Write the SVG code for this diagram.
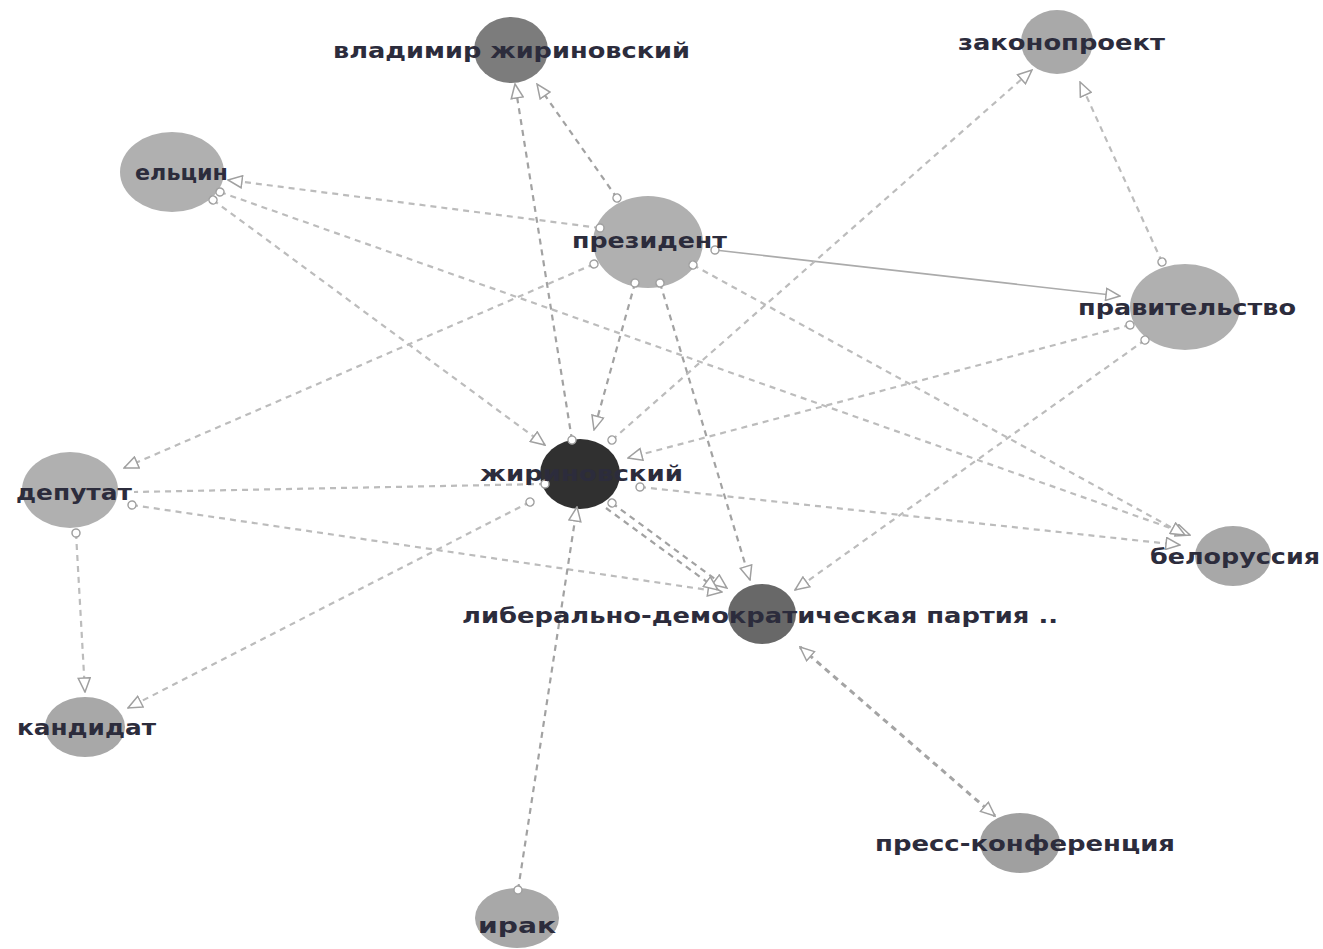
<svg xmlns="http://www.w3.org/2000/svg" width="1323" height="949" viewBox="0 0 1323 949">
  <defs>
    <marker id="tri" markerUnits="userSpaceOnUse" markerWidth="16" markerHeight="14" viewBox="0 0 16 14" refX="15" refY="7" orient="auto">
      <path d="M1,1 L15,7 L1,13 z" fill="#fff" stroke="#a0a0a0" stroke-width="1.5"/>
    </marker>
    <marker id="triStart" markerUnits="userSpaceOnUse" markerWidth="16" markerHeight="14" viewBox="0 0 16 14" refX="1" refY="7" orient="auto">
      <path d="M15,1 L1,7 L15,13 z" fill="#fff" stroke="#a0a0a0" stroke-width="1.5"/>
    </marker>
    <marker id="dot" markerUnits="userSpaceOnUse" markerWidth="12" markerHeight="12" viewBox="0 0 12 12" refX="6" refY="6" orient="auto">
      <circle cx="6" cy="6" r="4" fill="#fff" stroke="#a0a0a0" stroke-width="1.5"/>
    </marker>
  </defs>
  <style>
    .bg { fill: #ffffff; }
    .e { fill: none; stroke: #bcbcbc; stroke-width: 2.2; stroke-dasharray: 6 5; marker-start: url(#dot); marker-end: url(#tri); }
    .e.dk { stroke: #a2a2a2; }
    .e.solid { stroke-dasharray: none; stroke-width: 1.6; stroke: #ababab; }
    .e.both { marker-start: url(#triStart); stroke-width: 3; stroke: #a4a4a4; }
    .e.nodot { marker-start: none; }
    .lbl { font-family: "DejaVu Sans", Verdana, sans-serif; font-size: 21px; font-weight: bold; fill: #2c2c3c; text-anchor: start; }
  </style>
  <rect class="bg" x="0" y="0" width="1323" height="949"/>

  <!-- node discs, drawn below the connectors -->
  <g id="discs">
    <ellipse cx="511" cy="50" rx="37" ry="33" fill="#7c7c7c"/>
    <ellipse cx="1057" cy="42" rx="36" ry="32" fill="#a9a9a9"/>
    <ellipse cx="172" cy="172" rx="52" ry="40" fill="#b0b0b0"/>
    <ellipse cx="648" cy="242" rx="55" ry="46" fill="#b0b0b0"/>
    <ellipse cx="1185" cy="307" rx="55" ry="43" fill="#b0b0b0"/>
    <ellipse cx="70" cy="490" rx="48" ry="38" fill="#b0b0b0"/>
    <ellipse cx="580" cy="474" rx="40" ry="35" fill="#303030"/>
    <ellipse cx="1233" cy="556" rx="38" ry="30" fill="#a8a8a8"/>
    <ellipse cx="762" cy="614" rx="34" ry="30" fill="#686868"/>
    <ellipse cx="85" cy="727" rx="40" ry="30" fill="#a8a8a8"/>
    <ellipse cx="1020" cy="843" rx="40" ry="30" fill="#a0a0a0"/>
    <ellipse cx="517" cy="918" rx="42" ry="30" fill="#a8a8a8"/>
  </g>

  <g id="connectors">
    <line class="e dk" x1="617" y1="198" x2="537" y2="84"/>
    <line class="e dk" x1="572" y1="440" x2="515" y2="84"/>
    <line class="e" x1="600" y1="228" x2="228" y2="180"/>
    <line class="e" x1="213" y1="200" x2="545" y2="445"/>
    <line class="e" x1="220" y1="192" x2="1190" y2="535"/>
    <line class="e solid" x1="715" y1="250" x2="1120" y2="296"/>
    <line class="e" x1="594" y1="264" x2="124" y2="468"/>
    <line class="e dk" x1="635" y1="283" x2="594" y2="430"/>
    <line class="e dk" x1="660" y1="283" x2="750" y2="580"/>
    <line class="e" x1="693" y1="265" x2="1185" y2="535"/>
    <line class="e" x1="612" y1="440" x2="1032" y2="70"/>
    <line class="e" x1="1162" y1="262" x2="1080" y2="82"/>
    <line class="e" x1="1130" y1="325" x2="628" y2="458"/>
    <line class="e" x1="1145" y1="340" x2="795" y2="590"/>
    <line class="e nodot" x1="545" y1="484" x2="134" y2="492" style="marker-end:none;marker-start:url(#dot)"/>
    <line class="e" x1="132" y1="505" x2="722" y2="592"/>
    <line class="e" x1="76" y1="533" x2="85" y2="692"/>
    <line class="e" x1="530" y1="502" x2="128" y2="708"/>
    <line class="e dk" x1="612" y1="503" x2="727" y2="588"/>
    <line class="e dk" x1="606" y1="508" x2="718" y2="590" style="marker-start:none"/>
    <line class="e" x1="640" y1="487" x2="1180" y2="545"/>
    <line class="e dk" x1="518" y1="890" x2="577" y2="507"/>
    <line class="e both" x1="800" y1="647" x2="995" y2="816"/>
  </g>

  <g id="n-vzh"><text class="lbl" x="333" y="58" textLength="357" lengthAdjust="spacingAndGlyphs">владимир жириновский</text></g>
  <g id="n-zakonoproekt"><text class="lbl" x="958" y="50" textLength="207" lengthAdjust="spacingAndGlyphs">законопроект</text></g>
  <g id="n-eltsin"><text class="lbl" x="135" y="180" textLength="93" lengthAdjust="spacingAndGlyphs">ельцин</text></g>
  <g id="n-prezident"><text class="lbl" x="572" y="248" textLength="155" lengthAdjust="spacingAndGlyphs">президент</text></g>
  <g id="n-pravitelstvo"><text class="lbl" x="1078" y="315" textLength="218" lengthAdjust="spacingAndGlyphs">правительство</text></g>
  <g id="n-deputat"><text class="lbl" x="16" y="500" textLength="116" lengthAdjust="spacingAndGlyphs">депутат</text></g>
  <g id="n-zhirinovsky"><text class="lbl" x="480" y="481" textLength="203" lengthAdjust="spacingAndGlyphs">жириновский</text></g>
  <g id="n-belorussia"><text class="lbl" x="1150" y="564" textLength="170" lengthAdjust="spacingAndGlyphs">белоруссия</text></g>
  <g id="n-ldpr"><text class="lbl" x="462" y="623" textLength="596" lengthAdjust="spacingAndGlyphs">либерально-демократическая партия ..</text></g>
  <g id="n-kandidat"><text class="lbl" x="17" y="735" textLength="139" lengthAdjust="spacingAndGlyphs">кандидат</text></g>
  <g id="n-press"><text class="lbl" x="875" y="851" textLength="300" lengthAdjust="spacingAndGlyphs">пресс-конференция</text></g>
  <g id="n-irak"><text class="lbl" x="478" y="933" textLength="78" lengthAdjust="spacingAndGlyphs">ирак</text></g>
</svg>
